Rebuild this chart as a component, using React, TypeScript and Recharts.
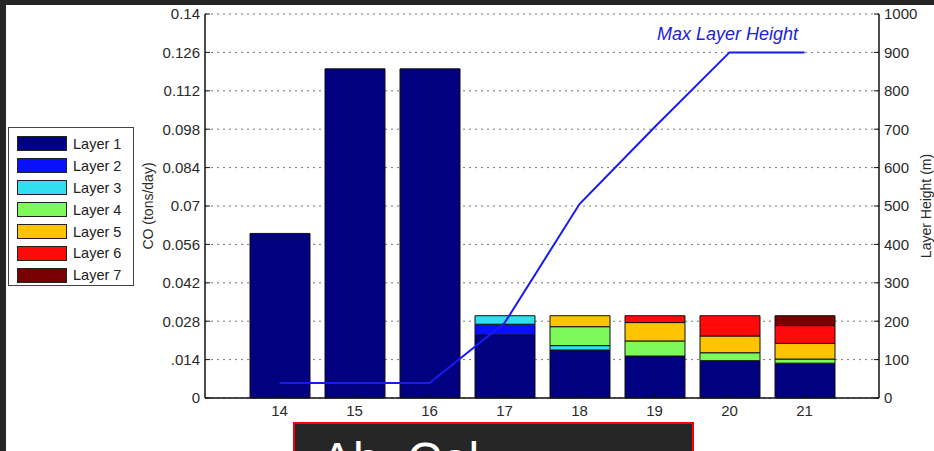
import React from 'react';
import { ComposedChart, Bar, Line, XAxis, YAxis, CartesianGrid, Legend, Label } from 'recharts';

const hours = ['14', '15', '16', '17', '18', '19', '20', '21'];
const layer1 = [0.06, 0.12, 0.12, 0.023, 0.0175, 0.0153, 0.0136, 0.0127];
const layer2 = [0, 0, 0, 0.0039, 0, 0, 0, 0];
const layer3 = [0, 0, 0, 0.0031, 0.0016, 0, 0, 0];
const layer4 = [0, 0, 0, 0, 0.0069, 0.0055, 0.0029, 0.0015];
const layer5 = [0, 0, 0, 0, 0.004, 0.0067, 0.0061, 0.0057];
const layer6 = [0, 0, 0, 0, 0, 0.0025, 0.0074, 0.0065];
const layer7 = [0, 0, 0, 0, 0, 0, 0, 0.0036];
const maxLayerHeight = [39, 39, 39, 195, 505, 705, 900, 900];

const layerNames = ['Layer 1', 'Layer 2', 'Layer 3', 'Layer 4', 'Layer 5', 'Layer 6', 'Layer 7'];
const layerColors = ['#000080', '#0a10ff', '#2ee0f0', '#7dfa5a', '#ffc400', '#ff0a0a', '#780000'];
const layerSeries = [layer1, layer2, layer3, layer4, layer5, layer6, layer7];

const leftTicks = [0, 0.014, 0.028, 0.042, 0.056, 0.07, 0.084, 0.098, 0.112, 0.126, 0.14];
const leftTickLabels = ['0', '.014', '0.028', '0.042', '0.056', '0.07', '0.084', '0.098', '0.112', '0.126', '0.14'];
const rightTicks = [0, 100, 200, 300, 400, 500, 600, 700, 800, 900, 1000];

const data = hours.map((h, i) => {
  const row: Record<string, number | string> = { hour: h, maxH: maxLayerHeight[i] };
  layerSeries.forEach((s, k) => {
    row['l' + (k + 1)] = s[i];
  });
  return row;
});

const FONT = '"Liberation Sans", Arial, Helvetica, sans-serif';
const tickStyle = { fontSize: 15, fill: '#2a2a2a', fontFamily: FONT };

const LegendBox = (props: any) => {
  const payload = (props.payload || []).filter((p: any) => p.dataKey !== 'maxH');
  return (
    <div
      style={{
        width: 126,
        height: 159,
        border: '1.5px solid #444',
        background: '#fff',
        boxSizing: 'border-box',
        paddingTop: 5,
        fontFamily: FONT,
      }}
    >
      {payload.map((p: any) => (
        <div key={p.value} style={{ display: 'flex', alignItems: 'center', height: 21.9 }}>
          <div
            style={{
              marginLeft: 8,
              width: 50,
              height: 15,
              background: p.color,
              border: '1.5px solid #222',
              boxSizing: 'border-box',
            }}
          />
          <span style={{ marginLeft: 6, fontSize: 14.5, color: '#222' }}>{p.value}</span>
        </div>
      ))}
    </div>
  );
};

export default function App() {
  return (
    <div
      style={{
        position: 'fixed',
        left: 0,
        top: 0,
        width: 934,
        height: 451,
        background: '#262626',
        overflow: 'hidden',
      }}
    >
      <div style={{ position: 'absolute', left: 6, top: 5, width: 928, height: 446, background: '#fff' }} />
      <div style={{ position: 'absolute', left: 0, top: 0 }}>
        <ComposedChart
          width={934}
          height={451}
          data={data}
          margin={{ top: 14, right: 0, bottom: 23, left: 0 }}
          barSize={60}
        >
          <CartesianGrid
            yAxisId="left"
            vertical={false}
            stroke="#777"
            strokeDasharray="2 4"
          />
          <XAxis
            dataKey="hour"
            padding={{ left: 37, right: 37 }}
            height={30}
            tickSize={-5}
            tickMargin={12}
            tick={tickStyle}
            axisLine={{ stroke: '#111', strokeWidth: 1.5 }}
            tickLine={{ stroke: '#111' }}
            interval={0}
          />
          <XAxis
            xAxisId="top"
            dataKey="hour"
            orientation="top"
            padding={{ left: 37, right: 37 }}
            height={0}
            tickSize={-5}
            tick={false}
            axisLine={{ stroke: '#111', strokeWidth: 1.5 }}
            tickLine={{ stroke: '#111' }}
            interval={0}
          />
          <YAxis
            yAxisId="left"
            width={205}
            domain={[0, 0.14]}
            ticks={leftTicks}
            interval={0}
            tickFormatter={(v: number, i: number) => leftTickLabels[i] ?? String(v)}
            tickSize={-5}
            tickMargin={10}
            tick={tickStyle}
            axisLine={{ stroke: '#111', strokeWidth: 1.5 }}
            tickLine={{ stroke: '#111' }}
          >
            <Label
              value="CO (tons/day)"
              angle={-90}
              position="center"
              dx={46}
              style={{ fontSize: 14, fill: '#2a2a2a', fontFamily: FONT, textAnchor: 'middle' }}
            />
          </YAxis>
          <YAxis
            yAxisId="right"
            orientation="right"
            width={55}
            domain={[0, 1000]}
            ticks={rightTicks}
            interval={0}
            tickSize={-5}
            tickMargin={10}
            tick={tickStyle}
            axisLine={{ stroke: '#111', strokeWidth: 1.5 }}
            tickLine={{ stroke: '#111' }}
          >
            <Label
              value="Layer Height (m)"
              angle={-90}
              position="center"
              dx={20}
              style={{ fontSize: 14, fill: '#2a2a2a', fontFamily: FONT, textAnchor: 'middle' }}
            />
          </YAxis>
          {layerNames.map((name, k) => (
            <Bar
              key={name}
              yAxisId="left"
              dataKey={'l' + (k + 1)}
              name={name}
              stackId="co"
              fill={layerColors[k]}
              stroke="#111"
              strokeWidth={1}
              isAnimationActive={false}
            />
          ))}
          <Line
            yAxisId="right"
            dataKey="maxH"
            name="Max Layer Height"
            type="linear"
            stroke="#1a1af0"
            strokeWidth={2}
            dot={false}
            legendType="none"
            isAnimationActive={false}
          />
          <Legend
            layout="vertical"
            align="center"
            verticalAlign="middle"
            content={<LegendBox />}
            wrapperStyle={{ left: 8, top: 127, width: 126, height: 159 }}
          />
        </ComposedChart>
      </div>
      <div
        style={{
          position: 'absolute',
          left: 657,
          top: 25,
          fontSize: 18,
          lineHeight: '18px',
          fontStyle: 'italic',
          color: '#2020e0',
          fontFamily: FONT,
          whiteSpace: 'nowrap',
        }}
      >
        Max Layer Height
      </div>
      <div
        style={{
          position: 'absolute',
          left: 293,
          top: 422,
          width: 401,
          height: 60,
          border: '2px solid #ff0000',
          boxSizing: 'border-box',
          background: '#262626',
          color: '#fff',
          fontFamily: FONT,
          fontSize: 48,
          lineHeight: '48px',
          paddingTop: 12,
          paddingLeft: 26,
          whiteSpace: 'nowrap',
          wordSpacing: 14,
        }}
      >
        Ab Cal
      </div>
    </div>
  );
}
